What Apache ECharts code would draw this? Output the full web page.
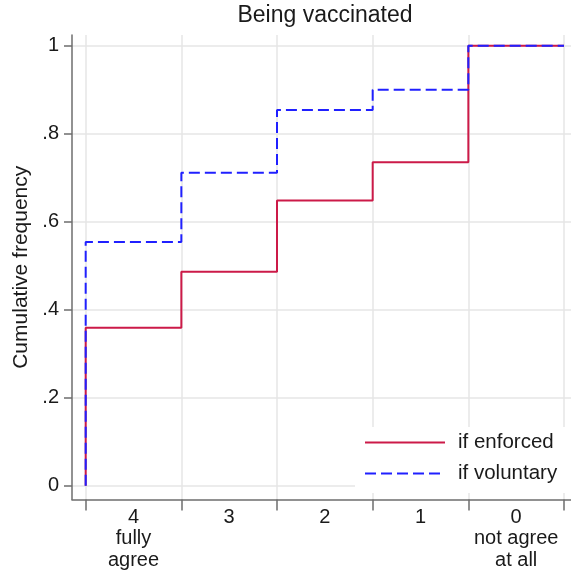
<!DOCTYPE html>
<html>
<head>
<meta charset="utf-8">
<script src="https://cdn.jsdelivr.net/npm/echarts@6/dist/echarts.min.js"></script>
<style>
  html, body { margin: 0; padding: 0; background: #fff; }
  #chart { width: 571px; height: 575px; }
</style>
</head>
<body>
<div id="chart"></div>
<script>
// Response categories, from full agreement down to no agreement
const categories = ['4\nfully\nagree', '3', '2', '1', '0\nnot agree\nat all'];

// Cumulative share of respondents at or above each category
const enforced = [0.359, 0.486, 0.648, 0.735, 1.0];
const voluntary = [0.554, 0.711, 0.854, 0.900, 1.0];

// Y-axis tick positions and their labels
const yTicks = [0, 0.2, 0.4, 0.6, 0.8, 1];
const yTickLabels = ['0', '.2', '.4', '.6', '.8', '1'];

// Step curve: starts at zero on the left boundary, one level per category,
// last level runs to the right boundary
function stepPoints(values) {
  const pts = [[0, 0]];
  values.forEach((v, i) => pts.push([i, v]));
  pts.push([values.length, values[values.length - 1]]);
  return pts;
}

const n = categories.length;
const boundaries = Array.from({ length: n + 1 }, (_, i) => i);
const centers = categories.map((_, i) => i + 0.5);

const axisGray = '#6e6e6e';
const gridGray = '#e6e6e6';
const textColor = '#1a1a1a';
const fontFamily = 'Arial, "Liberation Sans", sans-serif';

const chart = echarts.init(document.getElementById('chart'), null, { renderer: 'canvas' });

chart.setOption({
  animation: false,
  backgroundColor: '#fff',
  textStyle: { fontFamily: fontFamily },
  title: {
    text: 'Being vaccinated',
    left: 325,
    textAlign: 'center',
    top: 4,
    padding: 0,
    textStyle: { fontSize: 23, fontWeight: 'normal', color: textColor, fontFamily: fontFamily }
  },
  grid: { left: 72, right: 0, top: 35, bottom: 75.5, containLabel: false },
  xAxis: {
    type: 'value',
    min: -0.143,
    max: 5.073,
    axisLine: { show: true, onZero: false, lineStyle: { color: axisGray, width: 1.5 } },
    axisTick: { show: true, length: 11, customValues: boundaries, lineStyle: { color: axisGray, width: 1.5 } },
    splitLine: { show: true, lineStyle: { color: gridGray, width: 1.5 } },
    axisLabel: {
      show: true,
      customValues: centers,
      formatter: v => categories[Math.floor(v)],
      fontSize: 20,
      lineHeight: 21.5,
      margin: 7,
      color: textColor,
      align: 'center'
    }
  },
  yAxis: {
    type: 'value',
    min: -0.0314,
    max: 1.0243,
    name: 'Cumulative frequency',
    nameLocation: 'middle',
    nameGap: 37,
    nameTextStyle: { fontSize: 21, color: textColor },
    axisLine: { show: true, onZero: false, lineStyle: { color: axisGray, width: 1.5 } },
    axisTick: { show: true, length: 8, customValues: yTicks, lineStyle: { color: axisGray, width: 1.5 } },
    splitLine: { show: true, lineStyle: { color: gridGray, width: 1.5 } },
    axisLabel: {
      show: true,
      customValues: yTicks,
      formatter: v => yTickLabels[yTicks.findIndex(t => Math.abs(t - v) < 1e-6)],
      fontSize: 20,
      margin: 13,
      color: textColor
    }
  },
  legend: {
    orient: 'vertical',
    left: 355,
    top: 427,
    padding: [5, 30, 9, 9],
    itemGap: 10,
    itemWidth: 80,
    itemHeight: 14,
    backgroundColor: '#fff',
    itemStyle: { opacity: 0 },
    textStyle: { fontSize: 20.5, color: textColor, padding: [0, 0, 0, 8] },
    data: ['if enforced', 'if voluntary']
  },
  series: [
    {
      name: 'if enforced',
      type: 'line',
      step: 'end',
      symbol: 'none',
      data: stepPoints(enforced),
      lineStyle: { color: '#cc1a48', width: 2 },
      itemStyle: { color: '#cc1a48' },
      z: 2
    },
    {
      name: 'if voluntary',
      type: 'line',
      step: 'end',
      symbol: 'none',
      data: stepPoints(voluntary),
      lineStyle: { color: '#2020ff', width: 2, type: [11, 5] },
      itemStyle: { color: '#2020ff' },
      z: 3
    }
  ]
});
</script>
</body>
</html>
